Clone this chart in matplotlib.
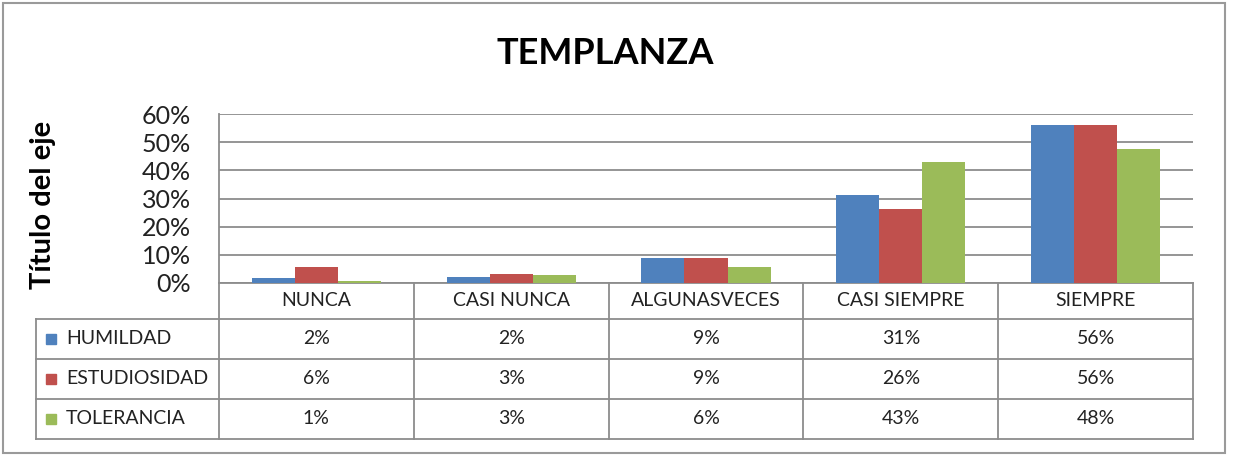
import matplotlib

matplotlib.use("Agg")
import matplotlib.pyplot as plt
import numpy as np
from matplotlib.patches import Rectangle
from matplotlib.transforms import blended_transform_factory

plt.rcParams["font.family"] = ["Lato", "DejaVu Sans"]

# datos
categorias = ["NUNCA", "CASI NUNCA", "ALGUNASVECES", "CASI SIEMPRE", "SIEMPRE"]
series = ["HUMILDAD", "ESTUDIOSIDAD", "TOLERANCIA"]
humildad = [1.6, 2.2, 8.8, 31.2, 56.2]
estudiosidad = [5.6, 3.2, 8.8, 26.2, 56.2]
tolerancia = [0.6, 2.7, 5.6, 43.0, 47.5]
yticks = [0, 10, 20, 30, 40, 50, 60]

valores = [humildad, estudiosidad, tolerancia]
colores = ["#4F81BD", "#C0504D", "#9BBB59"]
gris = "#8c8c8c"

W, H = 1233, 455
fig = plt.figure(figsize=(W / 100, H / 100), dpi=100)


def fy(py):
    # pixel (desde arriba) -> fraccion de figura
    return 1 - py / H


# area de graficos
ax_l, ax_r, ax_t, ax_b = 219, 1193, 114, 283
ax = fig.add_axes([ax_l / W, fy(ax_b), (ax_r - ax_l) / W, (ax_b - ax_t) / H])

x = np.arange(len(categorias))
ancho = 0.221
for i, (vals, col) in enumerate(zip(valores, colores)):
    ax.bar(x + (i - 1) * ancho, vals, width=ancho, color=col, zorder=3)

ax.set_xlim(-0.5, len(categorias) - 0.5)
ax.set_ylim(0, 60)
ax.set_yticks(yticks)
ax.set_yticklabels([f"{v}%" for v in yticks], fontsize=18, color="#222222")
ax.tick_params(axis="y", length=0, pad=20)
ax.set_xticks([])
ax.grid(axis="y", color=gris, lw=1.3, zorder=0)
for s in ["top", "right", "bottom"]:
    ax.spines[s].set_visible(False)
ax.spines["left"].set_color(gris)
ax.spines["left"].set_linewidth(1.3)

# tabla de datos bajo el eje
tr = blended_transform_factory(ax.transData, fig.transFigure)
filas_y = [283, 319, 359, 399, 439]
col_leyenda = (ax_l - 36) / ((ax_r - ax_l) / len(categorias))
x_izq = -0.5 - col_leyenda
x_der = len(categorias) - 0.5
lkw = dict(color=gris, lw=1.3, transform=tr, clip_on=False)

ax.plot([-0.5, x_der], [fy(filas_y[0])] * 2, **lkw)
for py in filas_y[1:]:
    ax.plot([x_izq, x_der], [fy(py)] * 2, **lkw)
for b in np.arange(len(categorias) + 1) - 0.5:
    ax.plot([b, b], [fy(filas_y[0]), fy(filas_y[-1])], **lkw)
ax.plot([x_izq, x_izq], [fy(filas_y[1]), fy(filas_y[-1])], **lkw)

tkw = dict(transform=tr, ha="center", va="center", fontsize=14, color="#222222")
for j, cat in enumerate(categorias):
    ax.text(j, fy((filas_y[0] + filas_y[1]) / 2), cat, **tkw)
for i, (nombre, vals, col) in enumerate(zip(series, valores, colores)):
    yc = fy((filas_y[i + 1] + filas_y[i + 2]) / 2)
    for j, v in enumerate(vals):
        ax.text(j, yc, f"{v:.0f}%", **tkw)
    fig.add_artist(Rectangle((46 / W, yc - 5 / H), 10 / W, 10 / H,
                             transform=fig.transFigure, color=col))
    fig.text(66 / W, yc, nombre, ha="left", va="center", fontsize=14, color="#222222")

# titulos
fig.text(605 / W, fy(54), "TEMPLANZA", ha="center", va="center",
         fontsize=26, fontweight="bold")
fig.text(43 / W, fy(205), "Título del eje", ha="center", va="center",
         rotation=90, fontsize=21, fontweight="bold")

# borde del grafico
fig.add_artist(Rectangle((3 / W, fy(453)), 1222 / W, 450 / H, transform=fig.transFigure,
                         fill=False, edgecolor="#9a9a9a", lw=1.5))

fig.savefig("out.png", dpi=100)
